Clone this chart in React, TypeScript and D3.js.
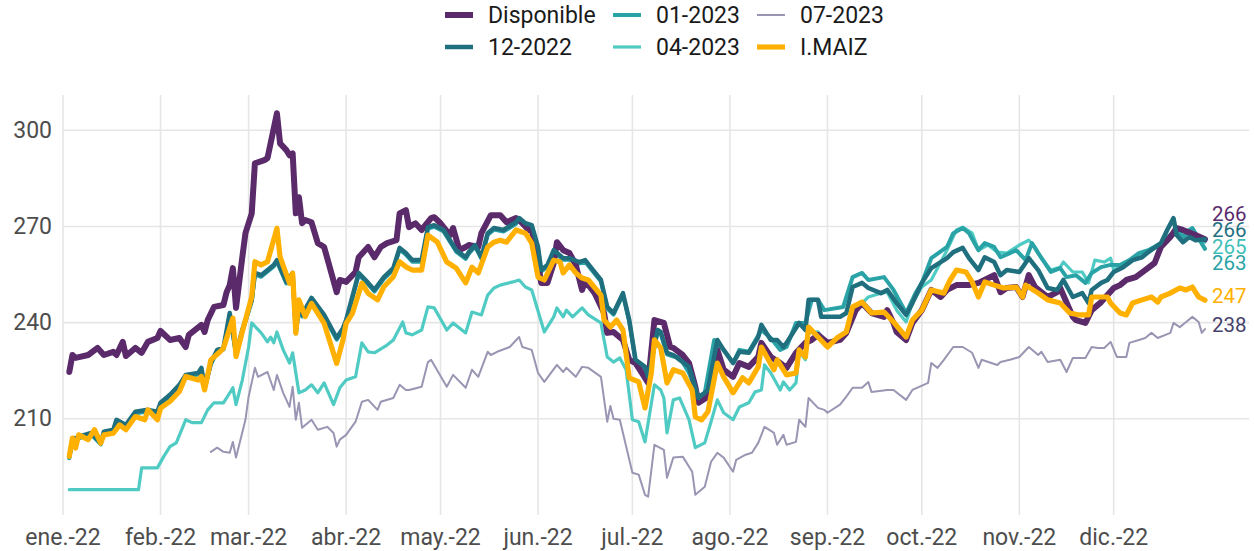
import React from "react";
import * as d3 from "d3";

type Pt = [number, number]; // [day of year 2022, value]

const disponible: Pt[] = [[3,224.6],[4,229.9],[5,229.0],[9,229.9],[12,232.1],[14,229.9],[17,230.9],[18,229.9],[20,234.0],[21,229.6],[24,232.1],[26,230.6],[28,234.0],[31,235.2],[32,237.4],[35,234.6],[38,235.2],[40,232.4],[41,236.2],[45,239.3],[46,237.1],[47,240.8],[49,244.9],[52,245.5],[53,249.5],[54,251.7],[55,257.0],[56,244.6],[58,260.4],[59,267.9],[61,274.1],[62,289.7],[65,290.7],[66,291.3],[69,305.3],[70,295.9],[72,293.8],[73,292.2],[74,292.8],[75,274.1],[76,279.1],[77,271.0],[78,272.0],[80,271.3],[82,264.8],[84,263.6],[88,249.5],[89,253.3],[91,252.7],[94,255.8],[95,260.4],[98,263.6],[100,260.4],[102,263.6],[104,264.8],[107,265.7],[108,274.1],[110,275.1],[111,269.8],[113,271.0],[115,268.9],[118,272.6],[119,272.9],[121,271.0],[124,267.3],[125,269.5],[127,262.6],[129,263.6],[130,264.2],[133,263.6],[134,267.9],[137,273.5],[140,273.5],[142,271.3],[145,272.6],[146,272.0],[149,268.9],[150,268.9],[152,258.6],[153,252.4],[155,252.4],[157,258.6],[158,265.1],[160,262.6],[162,261.7],[164,258.0],[166,250.2],[167,253.0],[170,249.2],[173,243.0],[174,236.8],[176,237.1],[179,234.6],[181,228.4],[183,227.4],[185,224.3],[187,221.2],[189,240.8],[192,239.9],[194,232.4],[195,232.1],[198,229.9],[200,227.4],[202,220.0],[203,215.0],[206,216.9],[209,231.5],[211,225.3],[214,223.1],[216,227.4],[219,226.2],[222,229.3],[223,233.7],[226,229.3],[229,227.4],[231,225.9],[234,230.6],[237,233.7],[239,234.6],[241,236.2],[244,233.7],[248,234.6],[250,236.8],[253,243.9],[255,246.1],[258,243.0],[262,241.8],[263,243.9],[265,239.9],[266,237.1],[269,234.6],[271,239.9],[274,243.9],[277,250.2],[280,248.0],[282,250.2],[285,251.7],[289,251.7],[292,252.4],[297,254.8],[299,249.5],[301,250.8],[304,251.1],[306,248.0],[308,254.8],[310,251.1],[314,248.0],[317,249.5],[318,250.8],[322,241.8],[323,240.8],[326,239.9],[328,243.9],[331,246.4],[335,250.8],[337,251.7],[339,253.3],[342,254.2],[345,256.4],[348,258.6],[350,263.6],[353,266.7],[355,269.5],[357,268.9],[361,267.3],[364,266.0]];

const dic2022: Pt[] = [[3,198.2],[4,203.5],[6,204.4],[10,205.6],[13,202.5],[14,206.0],[17,206.6],[18,209.7],[21,208.1],[24,212.2],[28,212.8],[31,212.2],[32,215.0],[35,217.5],[38,220.6],[40,223.7],[44,224.3],[45,225.9],[46,219.7],[48,227.4],[50,231.5],[52,232.1],[54,243.0],[56,230.6],[58,237.7],[61,247.1],[62,255.5],[64,254.8],[68,258.0],[69,259.5],[72,252.7],[74,255.5],[75,237.1],[76,244.9],[77,242.4],[80,247.7],[84,242.4],[88,235.2],[90,238.3],[91,240.8],[95,255.5],[98,252.4],[100,250.2],[103,254.2],[106,257.0],[108,263.3],[110,261.7],[112,259.5],[115,259.5],[117,269.8],[119,270.4],[122,268.9],[126,262.6],[129,260.4],[130,262.0],[132,264.2],[134,260.4],[136,267.9],[138,269.5],[141,268.9],[145,271.3],[146,272.6],[148,271.0],[150,270.4],[152,263.6],[153,256.4],[155,258.0],[157,262.6],[160,260.1],[162,260.1],[165,258.9],[167,259.5],[169,257.0],[172,253.3],[174,244.9],[176,243.0],[179,249.2],[181,240.8],[183,228.4],[186,226.2],[187,223.1],[190,237.7],[191,237.1],[193,230.6],[195,229.9],[200,226.2],[203,216.5],[206,219.0],[209,234.6],[211,231.5],[214,227.4],[216,230.9],[219,230.6],[222,235.5],[223,239.3],[226,234.6],[228,234.6],[230,232.4],[231,233.7],[235,239.9],[237,237.7],[238,247.1],[241,247.1],[242,241.8],[244,241.8],[248,241.8],[250,243.0],[252,251.1],[255,252.4],[257,250.8],[261,249.2],[263,250.2],[266,246.1],[269,242.4],[271,246.1],[274,252.4],[277,257.0],[282,260.1],[284,262.0],[287,263.3],[289,260.1],[292,256.4],[294,260.4],[297,258.9],[299,254.8],[301,256.4],[305,255.8],[308,260.1],[311,256.4],[314,250.8],[317,250.2],[319,253.3],[322,248.0],[325,249.2],[327,246.1],[328,250.2],[331,252.4],[333,253.3],[335,255.8],[338,257.3],[341,259.5],[344,260.4],[346,262.0],[350,264.8],[352,268.9],[354,272.6],[355,267.3],[357,265.1],[359,266.7],[361,265.7],[364,266.0]];

const ene2023: Pt[] = [[3,197.7],[4,203.0],[6,203.9],[10,205.1],[13,202.0],[14,205.5],[17,206.1],[18,209.2],[21,207.6],[24,211.7],[28,212.3],[31,211.7],[32,214.5],[35,217.0],[38,220.1],[40,223.2],[44,223.8],[45,225.4],[46,219.2],[48,226.9],[50,231.0],[52,231.6],[54,242.5],[56,230.1],[58,237.2],[61,246.6],[62,255.0],[64,254.3],[68,257.5],[69,259.0],[72,252.2],[74,255.0],[75,236.6],[76,244.4],[77,241.9],[80,247.2],[84,241.9],[88,234.7],[90,237.8],[91,240.3],[95,255.0],[98,251.9],[100,249.7],[103,253.7],[106,256.5],[108,262.8],[110,261.2],[112,259.0],[115,259.0],[117,269.3],[119,269.9],[122,268.4],[126,262.1],[129,259.9],[130,261.5],[132,263.7],[134,259.9],[136,267.4],[138,269.0],[141,268.4],[145,270.8],[146,272.1],[148,270.5],[150,269.9],[152,263.1],[153,255.9],[155,257.5],[157,262.1],[160,259.6],[162,259.6],[165,258.4],[167,259.0],[169,256.5],[172,252.8],[174,244.4],[176,242.5],[179,248.7],[181,240.3],[183,227.9],[186,225.7],[187,222.6],[190,237.2],[191,236.6],[193,230.1],[195,229.4],[197,229.3],[200,224.3],[203,216.9],[205,218.1],[208,234.6],[211,231.5],[214,227.4],[216,231.5],[219,230.9],[223,237.7],[226,235.2],[229,231.5],[231,232.4],[234,239.9],[237,239.9],[239,247.1],[241,247.1],[243,243.9],[249,244.9],[252,254.2],[255,255.5],[257,253.3],[262,254.2],[265,250.2],[269,243.0],[272,249.2],[274,252.4],[277,260.1],[282,263.6],[284,267.9],[287,269.5],[289,267.9],[292,262.6],[294,264.8],[297,263.6],[299,260.4],[302,261.7],[304,262.6],[307,259.5],[309,264.8],[311,261.7],[315,255.8],[318,257.0],[320,254.2],[323,254.8],[326,252.4],[328,255.5],[331,257.3],[334,258.0],[337,258.0],[340,259.5],[343,261.7],[346,262.6],[350,264.8],[352,266.7],[355,268.9],[357,266.7],[360,269.5],[361,267.9],[364,263.0]];

const abr2023: Pt[] = [[3,187.9],[25,187.9],[26,194.7],[31,194.7],[33,198.2],[35,201.3],[37,202.5],[40,209.7],[42,208.8],[45,208.8],[47,212.8],[49,215.0],[52,215.0],[53,216.5],[55,219.7],[56,214.4],[58,222.1],[60,232.4],[61,239.9],[64,236.8],[66,234.0],[67,235.5],[68,233.7],[69,237.1],[71,231.5],[73,227.4],[74,230.6],[76,218.1],[78,219.0],[80,220.6],[82,218.1],[84,221.2],[87,214.4],[89,219.7],[91,222.1],[94,223.1],[96,233.7],[98,230.9],[100,230.6],[104,233.0],[106,234.6],[109,240.2],[110,236.8],[112,236.2],[115,237.7],[117,244.9],[119,244.6],[123,237.7],[125,239.9],[129,236.8],[131,243.3],[134,242.4],[136,248.6],[138,250.8],[140,251.7],[144,252.7],[146,253.3],[148,251.1],[150,250.2],[154,237.1],[157,241.8],[158,244.6],[160,241.8],[161,243.9],[163,241.8],[166,244.6],[168,242.4],[172,239.9],[174,229.3],[176,227.7],[178,229.0],[180,225.3],[182,209.7],[184,209.1],[186,202.8],[189,220.6],[191,219.0],[192,216.5],[193,205.6],[195,215.9],[197,216.5],[200,209.7],[202,201.0],[205,202.5],[207,209.1],[209,215.9],[211,211.9],[214,209.7],[216,213.7],[219,215.0],[221,218.4],[223,219.0],[224,226.8],[226,224.3],[229,219.0],[230,221.5],[232,219.0],[234,221.2],[235,230.9],[237,228.4],[238,236.8],[241,237.1],[243,234.6],[244,233.0],[248,234.6],[250,237.1],[252,243.9],[255,246.1],[257,248.0],[261,249.2],[263,249.5],[266,243.9],[269,240.2],[271,246.1],[274,251.1],[277,253.3],[282,262.6],[285,268.9],[287,269.8],[290,267.9],[292,262.6],[295,264.2],[298,262.0],[301,261.7],[305,264.2],[308,265.7],[310,263.6],[312,260.1],[315,256.4],[318,257.3],[319,258.9],[322,255.8],[325,255.8],[327,252.4],[329,259.5],[332,258.9],[334,260.1],[335,256.4],[338,258.0],[341,260.1],[344,261.1],[347,263.3],[350,263.3],[351,264.8],[354,267.3],[357,268.2],[360,269.5],[361,266.7],[364,265.1]];

const jul2023: Pt[] = [[48,199.7],[50,201.0],[52,199.7],[54,199.4],[55,202.8],[56,197.9],[59,209.7],[60,216.9],[62,225.9],[63,223.1],[66,224.6],[68,219.0],[69,223.7],[71,218.1],[73,213.7],[74,220.0],[75,209.7],[76,215.0],[77,207.2],[80,209.7],[82,206.6],[85,207.5],[87,205.6],[88,201.3],[89,203.5],[91,205.0],[94,209.1],[96,215.3],[98,215.9],[101,212.8],[102,215.3],[106,216.5],[108,220.6],[110,219.0],[111,219.0],[115,220.0],[117,227.7],[118,228.4],[123,220.0],[125,223.7],[129,219.7],[131,225.3],[133,223.1],[136,230.9],[137,229.9],[139,230.9],[143,232.4],[146,235.5],[147,232.4],[150,231.5],[152,224.3],[154,221.5],[158,226.8],[160,224.6],[161,225.9],[164,223.1],[166,226.2],[168,225.9],[172,223.1],[174,209.1],[175,214.0],[176,210.0],[178,209.7],[182,193.2],[184,192.6],[186,186.3],[187,185.7],[189,201.9],[192,200.3],[193,191.6],[195,197.9],[198,198.2],[201,193.5],[202,186.3],[205,188.8],[207,196.6],[209,199.4],[211,197.9],[214,193.5],[215,197.2],[218,198.8],[220,199.4],[222,202.5],[224,207.5],[227,205.6],[228,201.9],[230,205.0],[231,201.9],[234,202.8],[235,209.7],[237,207.5],[238,216.5],[241,213.4],[243,212.8],[244,211.9],[248,214.4],[250,216.9],[252,219.7],[255,219.7],[257,221.5],[258,218.4],[263,219.0],[265,219.0],[269,215.9],[271,219.0],[276,221.2],[277,227.4],[279,225.9],[281,228.4],[284,232.4],[287,232.4],[290,230.6],[292,225.9],[293,228.4],[298,226.8],[299,227.7],[302,228.4],[305,229.3],[308,232.4],[311,229.9],[312,230.9],[314,227.7],[318,228.4],[320,224.6],[322,229.0],[326,229.0],[328,232.4],[330,232.1],[332,232.1],[334,234.0],[336,229.3],[339,229.3],[340,233.7],[343,234.6],[345,235.2],[347,236.8],[349,235.2],[353,236.8],[354,239.9],[356,238.6],[358,240.2],[360,241.8],[362,240.2],[363,236.8],[364,238.0]];

const imaiz: Pt[] = [[3,198.3],[4,204.0],[5,200.9],[6,205.0],[9,203.5],[11,206.6],[13,202.4],[14,205.0],[17,205.5],[19,208.1],[21,206.6],[24,210.7],[27,209.7],[28,212.8],[31,209.7],[32,213.3],[35,215.4],[38,218.5],[40,223.2],[44,222.1],[45,223.2],[46,219.0],[48,228.4],[51,231.0],[52,232.0],[55,241.4],[56,229.4],[58,237.2],[61,248.1],[62,259.0],[64,258.0],[66,259.0],[69,269.4],[70,260.5],[73,252.3],[74,255.4],[75,236.7],[76,247.1],[78,241.9],[80,246.0],[84,239.8],[88,227.3],[90,234.6],[91,239.8],[93,242.9],[96,252.3],[98,249.1],[101,247.1],[103,251.2],[106,254.3],[108,259.0],[110,257.4],[112,256.4],[115,256.4],[117,267.3],[120,265.1],[123,258.9],[126,257.0],[129,252.4],[131,257.3],[133,255.5],[136,263.6],[138,265.1],[140,265.7],[142,265.1],[145,268.9],[148,267.9],[150,264.8],[152,254.2],[154,253.3],[157,259.5],[159,258.9],[160,255.5],[162,258.0],[164,255.5],[166,253.9],[168,253.3],[172,248.6],[173,240.8],[175,238.6],[177,240.8],[179,237.7],[181,222.8],[184,221.5],[186,213.4],[188,224.3],[189,234.6],[191,232.1],[193,221.2],[195,225.3],[198,224.3],[201,219.0],[202,210.6],[204,209.7],[206,212.2],[209,227.4],[211,223.1],[214,218.1],[217,222.8],[219,221.2],[222,226.2],[223,232.4],[227,225.3],[228,228.4],[231,223.7],[234,224.3],[235,231.5],[237,229.3],[238,238.6],[241,235.5],[244,232.4],[247,235.2],[250,237.1],[252,244.9],[255,246.4],[258,243.0],[262,243.3],[265,240.2],[269,235.5],[271,240.8],[274,243.9],[277,250.2],[281,249.2],[283,253.3],[285,256.4],[288,255.8],[290,252.7],[292,248.0],[294,252.7],[297,251.7],[300,250.8],[304,251.1],[306,248.0],[307,251.7],[311,249.2],[314,247.1],[318,246.1],[321,243.0],[324,242.4],[327,242.4],[328,248.0],[331,248.0],[333,248.0],[334,246.1],[337,243.0],[339,242.4],[341,246.1],[344,247.1],[347,248.0],[349,246.4],[350,248.0],[353,249.2],[356,250.8],[358,250.2],[360,251.1],[362,248.0],[364,247.0]];

const seriesNames = ["Disponible", "12-2022", "01-2023", "04-2023", "07-2023", "I.MAIZ"];
const seriesData = [disponible, dic2022, ene2023, abr2023, jul2023, imaiz];
const seriesColors = ["#5a2a6b", "#1f6f7f", "#2aa3a7", "#4fcbc4", "#9a95b2", "#ffb000"];
const labelColors = ["#5a2a6b", "#1f6f7f", "#2aa3a7", "#3fbfb8", "#46426b", "#ffb000"];
const seriesWidths = [6, 4.5, 4, 3.2, 2, 5.2];
const drawOrder = [4, 3, 2, 0, 1, 5];

const yTicks = [210, 240, 270, 300];
const monthLabels = ["ene.-22", "feb.-22", "mar.-22", "abr.-22", "may.-22", "jun.-22", "jul.-22", "ago.-22", "sep.-22", "oct.-22", "nov.-22", "dic.-22"];

const FONT = "Roboto, 'Noto Sans', sans-serif";
const toDate = (doy: number) => new Date(2022, 0, doy);

function spreadLabels(targets: number[], gap: number): number[] {
  const idx = targets.map((t, i) => i).sort((a, b) => targets[a] - targets[b] || a - b);
  let clusters = idx.map((i) => ({ members: [i], top: targets[i] }));
  let changed = true;
  while (changed) {
    changed = false;
    for (let k = 0; k < clusters.length - 1; k++) {
      const a = clusters[k], b = clusters[k + 1];
      const aBottom = a.top + (a.members.length - 1) * gap;
      if (b.top < aBottom + gap) {
        const members = [...a.members, ...b.members];
        const mean = d3.mean(members, (m) => targets[m]) as number;
        clusters.splice(k, 2, { members, top: mean - ((members.length - 1) * gap) / 2 });
        changed = true;
        break;
      }
    }
  }
  const out = new Array(targets.length).fill(0);
  clusters.forEach((c) => c.members.forEach((m, j) => (out[m] = c.top + j * gap)));
  return out;
}

export default function App() {
  const W = 1254, H = 551;
  const x = d3.scaleTime().domain([new Date(2022, 0, 1), new Date(2023, 0, 13)]).range([63, 1249]);
  const y = d3.scaleLinear().domain([180, 311]).range([515, 95]);
  const [px0, px1] = x.range();
  const [py1, py0] = y.range();

  const line = d3.line<Pt>().x((d) => x(toDate(d[0]))).y((d) => y(d[1])).curve(d3.curveLinear);
  const months = d3.timeMonth.range(new Date(2022, 0, 1), new Date(2023, 0, 1));

  const lastVals = seriesData.map((s) => s[s.length - 1]);
  const labelTargets = lastVals.map((p) => y(p[1]) - 4);
  const labelY = spreadLabels(labelTargets, 16.4);

  const legendCols = [445, 613, 757];
  const legendRows = [15, 47];

  return (
    <div style={{ position: "absolute", left: 0, top: 0, width: W, height: H, background: "#fff" }}>
      <svg width={W} height={H} style={{ display: "block" }} fontFamily={FONT}>
        <rect width={W} height={H} fill="#ffffff" />
        <g>
          {yTicks.map((t) => (
            <line key={"h" + t} x1={px0} x2={px1} y1={y(t)} y2={y(t)} stroke="#e6e6e6" strokeWidth={1.6} />
          ))}
          {months.map((m, i) => (
            <line key={"v" + i} x1={x(m)} x2={x(m)} y1={py0} y2={py1} stroke="#e6e6e6" strokeWidth={1.6} />
          ))}
        </g>
        <g fill="#4d4d4d" fontSize={23} textAnchor="end">
          {yTicks.map((t) => (
            <text key={"yt" + t} x={52} y={y(t)} dominantBaseline="central">{t}</text>
          ))}
        </g>
        <g fill="#4d4d4d" fontSize={23} textAnchor="middle">
          {months.map((m, i) => (
            <text key={"xt" + i} x={x(m)} y={545}>{monthLabels[i]}</text>
          ))}
        </g>
        <g fill="none" strokeLinejoin="round" strokeLinecap="round">
          {drawOrder.map((i) => (
            <path key={"s" + i} d={line(seriesData[i]) || ""} stroke={seriesColors[i]} strokeWidth={seriesWidths[i]} />
          ))}
        </g>
        <g fontSize={20.5}>
          {lastVals.map((p, i) => (
            <text key={"el" + i} x={x(toDate(p[0])) + 7} y={labelY[i]} dominantBaseline="central" fill={labelColors[i]}>
              {Math.round(p[1])}
            </text>
          ))}
        </g>
        <g fontSize={23} fill="#1a1a1a">
          {seriesNames.map((name, i) => {
            const col = Math.floor(i / 2);
            const row = i % 2;
            const lx = legendCols[col];
            const ly = legendRows[row];
            return (
              <g key={"lg" + i}>
                <line x1={lx} x2={lx + 28} y1={ly} y2={ly} stroke={seriesColors[i]} strokeWidth={Math.max(seriesWidths[i], 2)} />
                <text x={lx + 43} y={ly} dominantBaseline="central">{name}</text>
              </g>
            );
          })}
        </g>
      </svg>
    </div>
  );
}
